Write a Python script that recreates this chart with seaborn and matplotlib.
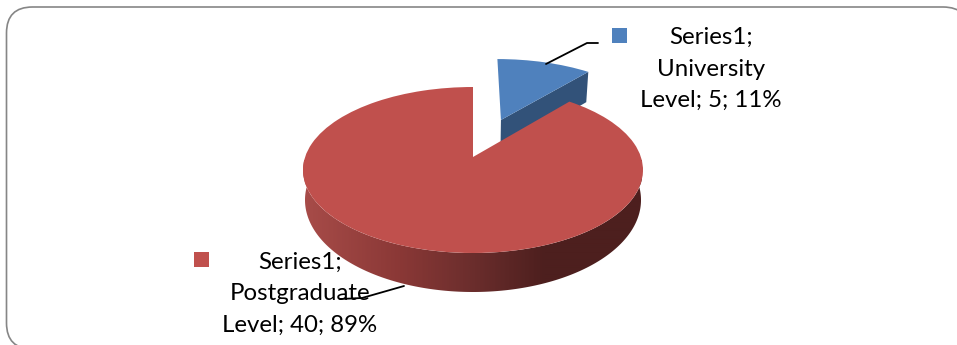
import numpy as np
import matplotlib
matplotlib.use("Agg")
import matplotlib.pyplot as plt
import seaborn as sns
from matplotlib.patches import FancyBboxPatch, PathPatch, Rectangle, Polygon
from matplotlib.path import Path
from matplotlib.colors import LinearSegmentedColormap

categories = ["University Level", "Postgraduate Level"]
values = [5, 40]
series_name = "Series1"
label_lines = [["University", "Level"], ["Postgraduate", "Level"]]

sns.set_theme(style="white")
plt.rcParams["font.family"] = ["Lato", "DejaVu Sans"]

W, H = 957, 345
fig = plt.figure(figsize=(W / 100, H / 100), dpi=100)
ax = fig.add_axes([0, 0, 1, 1])

BLUE, RED, BLUE_SIDE = "#4f81bd", "#c0504d", "#325279"
total = sum(values)

wedges, _ = ax.pie(values, startangle=90, counterclock=False, radius=1,
                   explode=[0.524, 0], colors=[BLUE, RED], center=(0, 0))

CX = 473.0
C = 0.1566


def project(u, v, cy, rx, ry):
    """Perspective view of the unit-disc pie on the page."""
    den = 1 + C * v
    x = CX + rx * np.sqrt(1 - C ** 2) * u / den
    y = cy - (ry * v + ry * 0.1566) / den
    return x, y


def top(u, v):
    return project(u, v, 170.0, 170.0, 83.0)


def bottom(u, v):
    return project(u, v, 205.0, 167.0, 87.0)


def wall_bottom(u, v):
    return project(u, v, 200.0, 168.0, 92.0)


# frame
ax.add_patch(FancyBboxPatch((6.5, 7), 962.5, 342,
                            boxstyle="round,pad=0,rounding_size=26",
                            fc="white", ec="#868686", lw=1.2, zorder=0))

blue_w, red_w = wedges
centre_b = np.array(blue_w.center)

# cut face of the pulled-out slice
t = np.radians(min(blue_w.theta1, blue_w.theta2))
tip = centre_b + np.array([np.cos(t), np.sin(t)])
pts = [top(*centre_b), top(*tip), bottom(*tip), bottom(*centre_b)]
ax.fill(*zip(*pts), color=BLUE_SIDE, lw=0, zorder=1)

# outer wall of the large slice, shaded left to right
xs_stop = np.array([302, 400, 470, 545, 642])
cmap = LinearSegmentedColormap.from_list(
    "wall", list(zip((xs_stop - 302) / 340,
                     ["#a84c49", "#8a3836", "#6c2e2d", "#4d1f1e", "#4d1f1e"])))
th = np.radians(np.linspace(min(red_w.theta1, red_w.theta2),
                            max(red_w.theta1, red_w.theta2), 500))
th = th[np.sin(th) < 0.12]
upper = np.array(top(np.cos(th), np.sin(th))).T
lower = np.array(wall_bottom(np.cos(th), np.sin(th))).T
outline = np.vstack([upper, lower[::-1]])
wall = Polygon(outline, closed=True, fc="none", ec="none", transform=ax.transData)
ax.add_patch(wall)
img = ax.imshow(np.linspace(0, 1, 340)[None, :], cmap=cmap, vmin=0, vmax=1,
                extent=(302, 642, 300, 160), aspect="auto", zorder=2,
                interpolation="bilinear")
img.set_clip_path(wall)

# top faces from the pie wedges
for w, col, z in zip(wedges, [BLUE, RED], [1.5, 3]):
    p = w.get_path()
    x, y = top(p.vertices[:, 0], p.vertices[:, 1])
    w.remove()
    ax.add_patch(PathPatch(Path(np.column_stack([x, y]), p.codes),
                           fc=col, ec="none", zorder=z))

# legend keys and labels
ax.add_patch(Rectangle((612, 28), 15, 15, fc=BLUE, ec="none", zorder=4))
ax.add_patch(Rectangle((194, 252), 15, 15, fc=RED, ec="none", zorder=4))

for i, (cx, cy) in enumerate([(711, 69), (300, 294)]):
    pct = round(100 * values[i] / total)
    txt = f"{series_name};\n{label_lines[i][0]}\n{label_lines[i][1]}; {values[i]}; {pct}%"
    ax.text(cx, cy, txt, ha="center", va="center", fontsize=17.3,
            linespacing=1.6, color="#000000", zorder=5)

# leader lines
ax.plot([546, 587, 598], [64, 43, 43], color="black", lw=1.3, zorder=6)
ax.plot([404, 362, 340], [286, 298, 299], color="black", lw=1.3, zorder=6)

ax.set_aspect("auto")
ax.set_xlim(0, W)
ax.set_ylim(H, 0)
ax.set_axis_off()

fig.savefig("out.png", dpi=100)
